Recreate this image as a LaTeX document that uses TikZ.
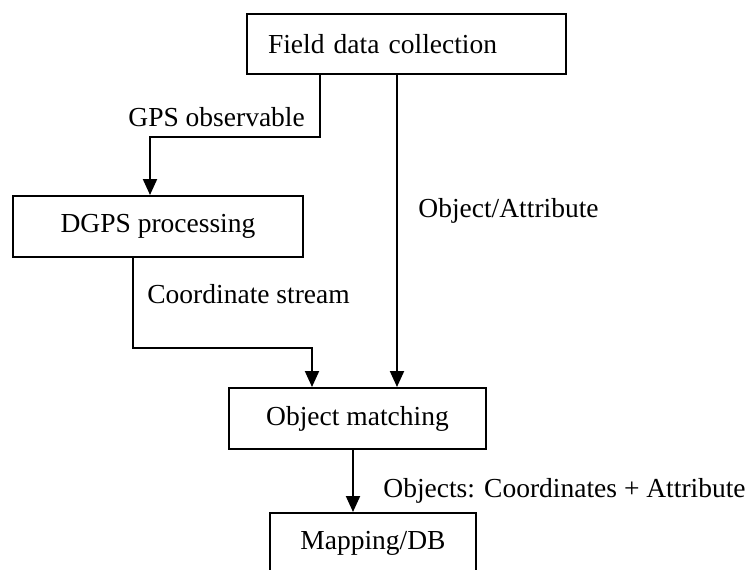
\documentclass[tikz,border=0pt]{standalone}
\usepackage{fontspec}
\setmainfont{Liberation Serif}
\usetikzlibrary{arrows.meta,positioning}

\begin{document}
\begin{tikzpicture}[
    x=0.5pt, y=-0.5pt,
    font=\fontsize{13.75}{16.5}\selectfont,
    box/.style={draw, line width=1pt, minimum height=30pt, inner sep=0pt, align=center},
    flow/.style={line width=1pt, -{Triangle[width=7pt, length=8pt]}},
    lbl/.style={anchor=base west, inner sep=0pt}
  ]
    \useasboundingbox (0,0) rectangle (755,569);
    \node[box, text width=138.5pt, inner xsep=10.5pt, align=left] (field) at (406.5,44) {Field data collection};
    \node[box, minimum width=145pt, minimum height=30.5pt] (dgps) at (158,226.5) {DGPS processing};
    \node[box, minimum width=128.5pt, minimum height=30.5pt] (match) at (357.5,418.5) {Object matching};
    \node[box, minimum width=103pt] (map) at (373,543) {Mapping/DB};
    \path ([xshift=37pt]field.south west) coordinate (gps)
          ([xshift=75.5pt]field.south west) coordinate (attr)
          ([xshift=60.5pt]dgps.south west) coordinate (crd)
          ([xshift=-2.25pt]match.south) coordinate (obj);
    \draw[flow] (gps) -- ++(0,62) -| ([xshift=-4pt]dgps.north);
    \draw[flow] (attr) -- (attr |- match.north);
    \draw[flow] (crd) -- ++(0,90) -| ([xshift=-22.75pt]match.north);
    \draw[flow] (obj) -- (obj |- map.north);
    \node[lbl] (gpslbl) at (128,126) {GPS observable};
    \node[lbl] (attrlbl) at (418,217) {Object/Attribute};
    \node[lbl] (crdlbl) at (147,303) {Coordinate stream};
    \node[lbl] (objlbl) at (383,497) {Objects: Coordinates + Attribute};
  \end{tikzpicture}
\end{document}
